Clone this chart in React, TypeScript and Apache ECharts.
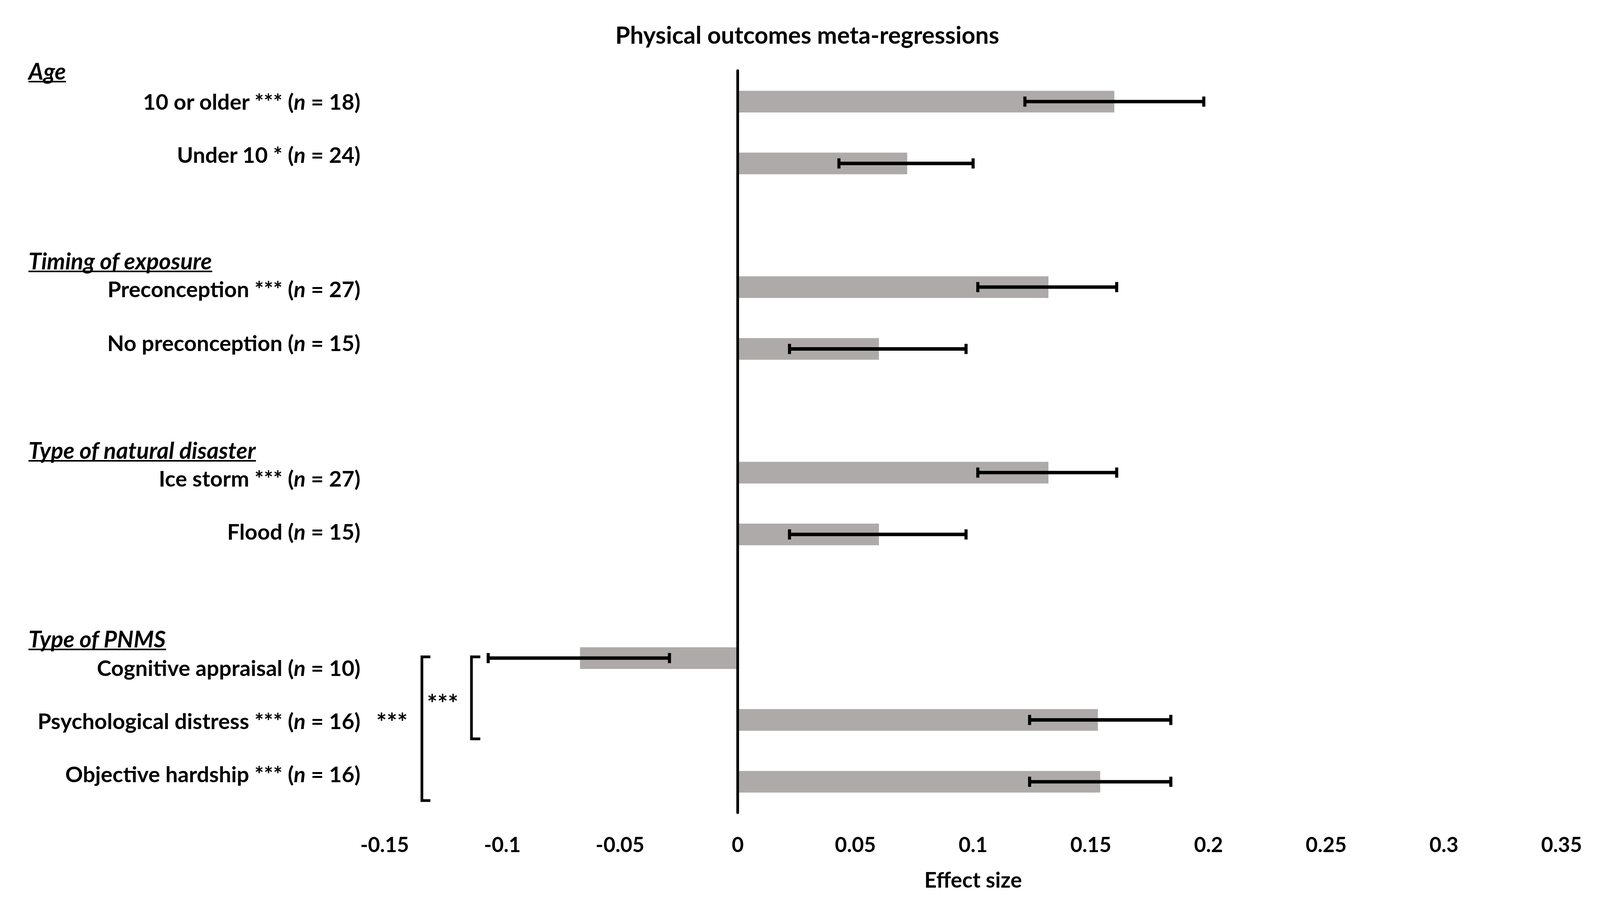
import React, { useEffect, useRef } from "react";
import * as echarts from "echarts";

// ---------- data ----------
const categories = [
  "10 or older",
  "Under 10",
  "",
  "Preconception",
  "No preconception",
  "",
  "Ice storm",
  "Flood",
  "",
  "Cognitive appraisal",
  "Psychological distress",
  "Objective hardship",
];
const significance = ["***", "*", "", "***", "", "", "***", "", "", "", "***", "***"];
const nStudies = [18, 24, null, 27, 15, null, 27, 15, null, 10, 16, 16];
const effectSize = [0.16, 0.072, null, 0.132, 0.06, null, 0.132, 0.06, null, -0.067, 0.153, 0.154];
const ciLower = [0.122, 0.043, null, 0.102, 0.022, null, 0.102, 0.022, null, -0.106, 0.124, 0.124];
const ciUpper = [0.198, 0.1, null, 0.161, 0.097, null, 0.161, 0.097, null, -0.029, 0.184, 0.184];
const groupHeaders = ["Age", "Timing of exposure", "Type of natural disaster", "Type of PNMS"];
const xTicks = { min: -0.15, max: 0.35, interval: 0.05 };

// ---------- layout (reference pixels, 4164 x 2320) ----------
const REF_W = 4164;
const REF_H = 2320;
const FONT = "Lato";
const labelRight = 938;
const labelY = [259, 395, 0, 739, 877, 0, 1224, 1360, 0, 1709, 1845, 1981];
const headerX = 74;
const headerY = [181, 667, 1152, 1635];

function measure(text: string, font: string) {
  const c = document.createElement("canvas");
  const ctx = c.getContext("2d")!;
  ctx.font = font;
  return ctx.measureText(text).width;
}

export default function App() {
  const ref = useRef<HTMLDivElement>(null);
  useEffect(() => {
    document.body.style.margin = "0";
    document.documentElement.style.overflow = "hidden";
    document.body.style.overflow = "hidden";
    if (!ref.current) return;
    const w = window.innerWidth || REF_W;
    const h = window.innerHeight || REF_H;
    ref.current.style.width = w + "px";
    ref.current.style.height = h + "px";
    const sx = w / REF_W;
    const sy = h / REF_H;
    const fs = Math.min(sx, sy);
    const X = (v: number) => v * sx;
    const Y = (v: number) => v * sy;
    const F = (v: number) => Math.round(v * fs * 10) / 10;

    const chart = echarts.init(ref.current, undefined, { renderer: "svg" });

    const graphics: any[] = [];
    graphics.push({
      type: "text",
      x: X(2101),
      y: Y(88),
      style: {
        text: "Physical outcomes meta-regressions",
        font: `bold ${F(62)}px ${FONT}`,
        fill: "#000",
        textAlign: "center",
        textVerticalAlign: "middle",
      },
    });
    groupHeaders.forEach((hd, i) => {
      const font = `italic bold ${F(60)}px ${FONT}`;
      const tw = measure(hd, font);
      graphics.push({
        type: "text",
        x: X(headerX),
        y: Y(headerY[i]),
        style: { text: hd, font, fill: "#000", textAlign: "left", textVerticalAlign: "middle" },
      });
      graphics.push({
        type: "line",
        shape: { x1: X(headerX), y1: Y(headerY[i] + 28), x2: X(headerX) + tw, y2: Y(headerY[i] + 28) },
        style: { stroke: "#000", lineWidth: F(4) },
      });
    });
    categories.forEach((c, i) => {
      if (!c) return;
      const sig = significance[i] ? " " + significance[i] : "";
      graphics.push({
        type: "text",
        x: X(labelRight),
        y: Y(labelY[i]),
        style: {
          text: `{b|${c}${sig} (}{i|n}{b| = ${nStudies[i]})}`,
          rich: {
            b: { font: `bold ${F(57)}px ${FONT}`, fill: "#000" },
            i: { font: `italic bold ${F(57)}px ${FONT}`, fill: "#000" },
          },
          textAlign: "right",
          textVerticalAlign: "middle",
        },
      });
    });
    // significance brackets
    graphics.push({
      type: "polyline",
      shape: { points: [[X(1250), Y(1682)], [X(1227), Y(1682)], [X(1227), Y(1892)], [X(1250), Y(1892)]] },
      style: { stroke: "#000", lineWidth: F(7), fill: null },
    });
    graphics.push({
      type: "polyline",
      shape: { points: [[X(1120), Y(1682)], [X(1098), Y(1682)], [X(1098), Y(2050)], [X(1120), Y(2050)]] },
      style: { stroke: "#000", lineWidth: F(7), fill: null },
    });
    graphics.push({
      type: "text",
      x: X(1152),
      y: Y(1800),
      style: { text: "***", font: `bold ${F(64)}px ${FONT}`, fill: "#000", textAlign: "center", textVerticalAlign: "middle" },
    });
    graphics.push({
      type: "text",
      x: X(1020),
      y: Y(1848),
      style: { text: "***", font: `bold ${F(64)}px ${FONT}`, fill: "#000", textAlign: "center", textVerticalAlign: "middle" },
    });

    const errData = categories
      .map((_, i) => (ciLower[i] == null ? null : [i, ciLower[i], ciUpper[i]]))
      .filter((d) => d !== null);

    chart.setOption({
      animation: false,
      backgroundColor: "#fff",
      grid: { left: X(1001), right: X(100), top: Y(181), bottom: Y(239), containLabel: false },
      xAxis: {
        type: "value",
        min: xTicks.min,
        max: xTicks.max,
        interval: xTicks.interval,
        name: "Effect size",
        nameLocation: "middle",
        nameGap: Y(143),
        nameTextStyle: { fontFamily: FONT, fontWeight: "bold", fontSize: F(56), color: "#000" },
        axisLine: { onZero: false, lineStyle: { color: "#000", width: F(10) } },
        axisTick: { show: false },
        splitLine: { show: false },
        axisLabel: {
          margin: Y(54),
          fontFamily: FONT,
          fontWeight: "bold",
          fontSize: F(54),
          color: "#000",
          formatter: (v: number) => String(parseFloat(v.toFixed(2))),
        },
      },
      yAxis: {
        type: "category",
        inverse: true,
        data: categories,
        z: 10,
        axisLine: { onZero: true, lineStyle: { color: "#000", width: F(7) } },
        axisTick: { show: false },
        axisLabel: { show: false },
        splitLine: { show: false },
      },
      series: [
        {
          type: "bar",
          data: effectSize,
          barWidth: "35%",
          itemStyle: { color: "#AEAAAA" },
          z: 2,
        },
        {
          type: "custom",
          z: 5,
          encode: { x: [1, 2], y: 0 },
          data: errData,
          renderItem: (params: any, api: any) => {
            const idx = api.value(0);
            const lo = api.coord([api.value(1), idx]);
            const hi = api.coord([api.value(2), idx]);
            const cap = Y(13);
            return {
              type: "group",
              children: [
                { type: "line", shape: { x1: lo[0], y1: lo[1], x2: hi[0], y2: hi[1] }, style: { stroke: "#000", lineWidth: F(9) } },
                { type: "line", shape: { x1: lo[0], y1: lo[1] - cap, x2: lo[0], y2: lo[1] + cap }, style: { stroke: "#000", lineWidth: F(8) } },
                { type: "line", shape: { x1: hi[0], y1: hi[1] - cap, x2: hi[0], y2: hi[1] + cap }, style: { stroke: "#000", lineWidth: F(8) } },
              ],
            };
          },
        },
      ],
      graphic: graphics,
    });
    return () => chart.dispose();
  }, []);
  return <div ref={ref} style={{ width: REF_W, height: REF_H }} />;
}
